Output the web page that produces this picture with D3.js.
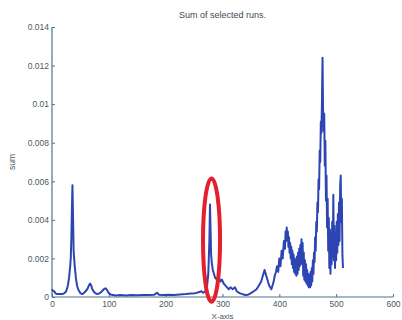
<!DOCTYPE html>
<html>
<head>
<meta charset="utf-8">
<script src="https://cdn.jsdelivr.net/npm/d3@7"></script>
<style>
  html, body { margin: 0; padding: 0; background: #fff; }
  svg { display: block; }
  text { font-family: "Liberation Sans", Arial, sans-serif; }
</style>
</head>
<body>
<svg id="chart" width="402" height="320"></svg>
<script>
// Sample positions along the X axis
const xValues = [
  0, 2, 4, 6, 8, 10, 14, 18, 22, 25, 28, 30, 32, 33, 34, 35, 36, 37, 38, 39, 40, 42, 44, 46, 48, 50,
  53, 56, 59, 62, 65, 67, 69, 71, 73, 76, 80, 84, 88, 91, 94, 96, 98, 100, 104, 108,
  112, 120, 130, 140, 150, 160, 170, 180, 185, 188, 195, 205, 215, 225, 235, 245, 252, 258, 263, 266,
  270, 273, 275, 277, 278, 279, 280, 281, 283, 285, 287, 290, 293, 296, 299, 302, 305, 308, 311, 314,
  318, 322, 325, 330, 335, 340, 345, 350, 355, 360, 364, 368, 371, 374, 376, 378, 380, 382, 384, 386,
  388, 390, 392, 394, 396, 398, 400, 402, 404, 406, 408, 410, 411, 412, 413, 414, 415, 416, 417, 418,
  419, 420, 421, 422, 423, 424, 425, 426, 427, 428, 429, 430, 431, 432, 433, 434, 435, 436, 437, 438,
  439, 440, 441, 442, 443, 444, 445, 446, 447, 448, 449, 450, 451, 452, 453, 454, 455, 456, 457, 458,
  459, 460, 461, 462, 463, 464, 465, 466, 467, 468, 469, 470, 471, 472, 473, 474, 475, 476, 477, 478,
  479, 480, 481, 482, 483, 484, 485, 486, 487, 488, 489, 490, 491, 492, 493, 494, 495, 496, 497, 498,
  499, 500, 501, 502, 503, 504, 505, 506, 507, 508, 509, 510, 511, 512
];

// Summed value of the selected runs at each sample
const sumValues = [
  0.0004, 0.0003, 0.0003, 0.0002, 0.00015, 0.00015, 0.00015, 0.00015, 0.0002, 0.0003, 0.0006, 0.0010, 0.0016, 0.0020, 0.0030, 0.0045, 0.0058, 0.0042, 0.0024, 0.0020, 0.0016, 0.0010, 0.0006, 0.0004, 0.0003, 0.0002,
  0.00015, 0.0002, 0.0003, 0.0004, 0.0006, 0.0007, 0.0006, 0.0004, 0.0003, 0.0002, 0.00015, 0.0002, 0.0003, 0.0004, 0.00045, 0.0004, 0.0003, 0.0002, 0.00012, 0.0001,
  0.00008, 0.0001, 0.00008, 0.0001, 0.00009, 0.0001, 0.0001, 0.00012, 0.00022, 0.00012, 0.0001, 0.00012, 0.00011, 0.00013, 0.00015, 0.00018, 0.0002, 0.00025, 0.0003, 0.00022,
  0.0003, 0.0006, 0.0012, 0.0030, 0.0048, 0.0035, 0.0022, 0.0018, 0.0014, 0.0012, 0.0010, 0.0009, 0.0011, 0.0008, 0.0009, 0.0007, 0.0006, 0.0005, 0.0004, 0.0005,
  0.0004, 0.0005, 0.0003, 0.0002, 0.00015, 0.0001, 0.00012, 0.0002, 0.0003, 0.0004, 0.0006, 0.0008, 0.0011, 0.0014, 0.0012, 0.0010, 0.0008, 0.0006, 0.0005, 0.0004,
  0.0006, 0.0008, 0.0011, 0.0013, 0.0016, 0.0013, 0.0020, 0.0016, 0.0024, 0.0020, 0.0029, 0.0025, 0.0034, 0.0029, 0.0036, 0.0030, 0.0034, 0.0026, 0.0031, 0.0023,
  0.0028, 0.0020, 0.0026, 0.0017, 0.0024, 0.0015, 0.0022, 0.0013, 0.0020, 0.0012, 0.0019, 0.0011, 0.0021, 0.0012, 0.0023, 0.0014, 0.0025, 0.0016, 0.0027, 0.0017,
  0.0030, 0.0019, 0.0028, 0.0011, 0.0023, 0.0009, 0.0019, 0.0008, 0.0017, 0.0007, 0.0014, 0.0006, 0.0012, 0.0005, 0.0011, 0.0005, 0.0013, 0.0006, 0.0015, 0.0008,
  0.0019, 0.0012, 0.0023, 0.0018, 0.0031, 0.0024, 0.0039, 0.0034, 0.0049, 0.0044, 0.0061, 0.0056, 0.0076, 0.0070, 0.0091, 0.0085, 0.0101, 0.0124, 0.0096, 0.0086,
  0.0095, 0.0068, 0.0081, 0.0050, 0.0063, 0.0036, 0.0051, 0.0024, 0.0041, 0.0015, 0.0035, 0.0012, 0.0031, 0.0017, 0.0039, 0.0021, 0.0053, 0.0019, 0.0037, 0.0015,
  0.0033, 0.0019, 0.0039, 0.0023, 0.0043, 0.0027, 0.0049, 0.0029, 0.0057, 0.0063, 0.0039, 0.0051, 0.0022, 0.0015
];

const xTicks = [0, 100, 200, 300, 400, 500, 600];
const yTicks = [0, 0.002, 0.004, 0.006, 0.008, 0.01, 0.012, 0.014];

// Highlighted peak region (centre and half-extent, in data units)
const highlightCenter = [280.7, 0.00295];
const highlightRadius = [15, 0.0032];

const svg = d3.select("#chart");
const margin = { left: 52, right: 9, top: 27, bottom: 23 };
const W = 402, H = 320;

const x = d3.scaleLinear().domain([0, 600]).range([margin.left, W - margin.right]);
const y = d3.scaleLinear().domain([0, 0.014]).range([H - margin.bottom, margin.top]);

const axisColor = "#4f7487";
const labelColor = "#4a5a66";

// Y axis with inward ticks
const yAxis = svg.append("g")
  .attr("transform", `translate(${margin.left},0)`)
  .call(d3.axisRight(y).tickValues(yTicks).tickSize(3).tickFormat(d => d3.format("~g")(+d.toFixed(4))));
yAxis.select(".domain").attr("stroke", axisColor).attr("stroke-width", 1.2).attr("d", `M0,${y(0)}V${y(0.014)}`);
yAxis.selectAll(".tick line").attr("stroke", axisColor);
yAxis.selectAll(".tick text")
  .attr("x", -3).attr("text-anchor", "end")
  .attr("fill", labelColor).style("font-size", "8.5px");

// X axis with inward ticks
const xAxis = svg.append("g")
  .attr("transform", `translate(0,${y(0)})`)
  .call(d3.axisTop(x).tickValues(xTicks).tickSize(3));
xAxis.select(".domain").attr("stroke", axisColor).attr("stroke-width", 1.2).attr("d", `M${x(0)},0H${x(600)}`);
xAxis.selectAll(".tick line").attr("stroke", axisColor);
xAxis.selectAll(".tick text")
  .attr("y", 10).attr("dy", "0")
  .attr("fill", labelColor).style("font-size", "8.5px");

// Data line
const series = xValues.map((v, i) => [v, sumValues[i]]);
svg.append("path")
  .datum(series)
  .attr("fill", "none")
  .attr("stroke", "#2c45b2")
  .attr("stroke-width", 2)
  .attr("stroke-linejoin", "round")
  .attr("d", d3.line().x(d => x(d[0])).y(d => y(d[1])));

// Highlight ring around the peak near x ≈ 280
svg.append("ellipse")
  .attr("cx", x(highlightCenter[0]))
  .attr("cy", y(highlightCenter[1]))
  .attr("rx", x(highlightCenter[0] + highlightRadius[0]) - x(highlightCenter[0]))
  .attr("ry", y(0) - y(highlightRadius[1]))
  .attr("fill", "none")
  .attr("stroke", "#e3202b")
  .attr("stroke-width", 4);

// Titles
svg.append("text")
  .attr("x", (x(0) + x(600)) / 2).attr("y", 18)
  .attr("text-anchor", "middle")
  .attr("fill", "#3a4a56").style("font-size", "9px")
  .text("Sum of selected runs.");

svg.append("text")
  .attr("transform", `translate(15,${(y(0) + y(0.014)) / 2}) rotate(-90)`)
  .attr("text-anchor", "middle")
  .attr("fill", labelColor).style("font-size", "8.5px")
  .text("sum");

svg.append("text")
  .attr("x", (x(0) + x(600)) / 2).attr("y", 319)
  .attr("text-anchor", "middle")
  .attr("fill", labelColor).style("font-size", "8px")
  .text("X-axis");
</script>
</body>
</html>
